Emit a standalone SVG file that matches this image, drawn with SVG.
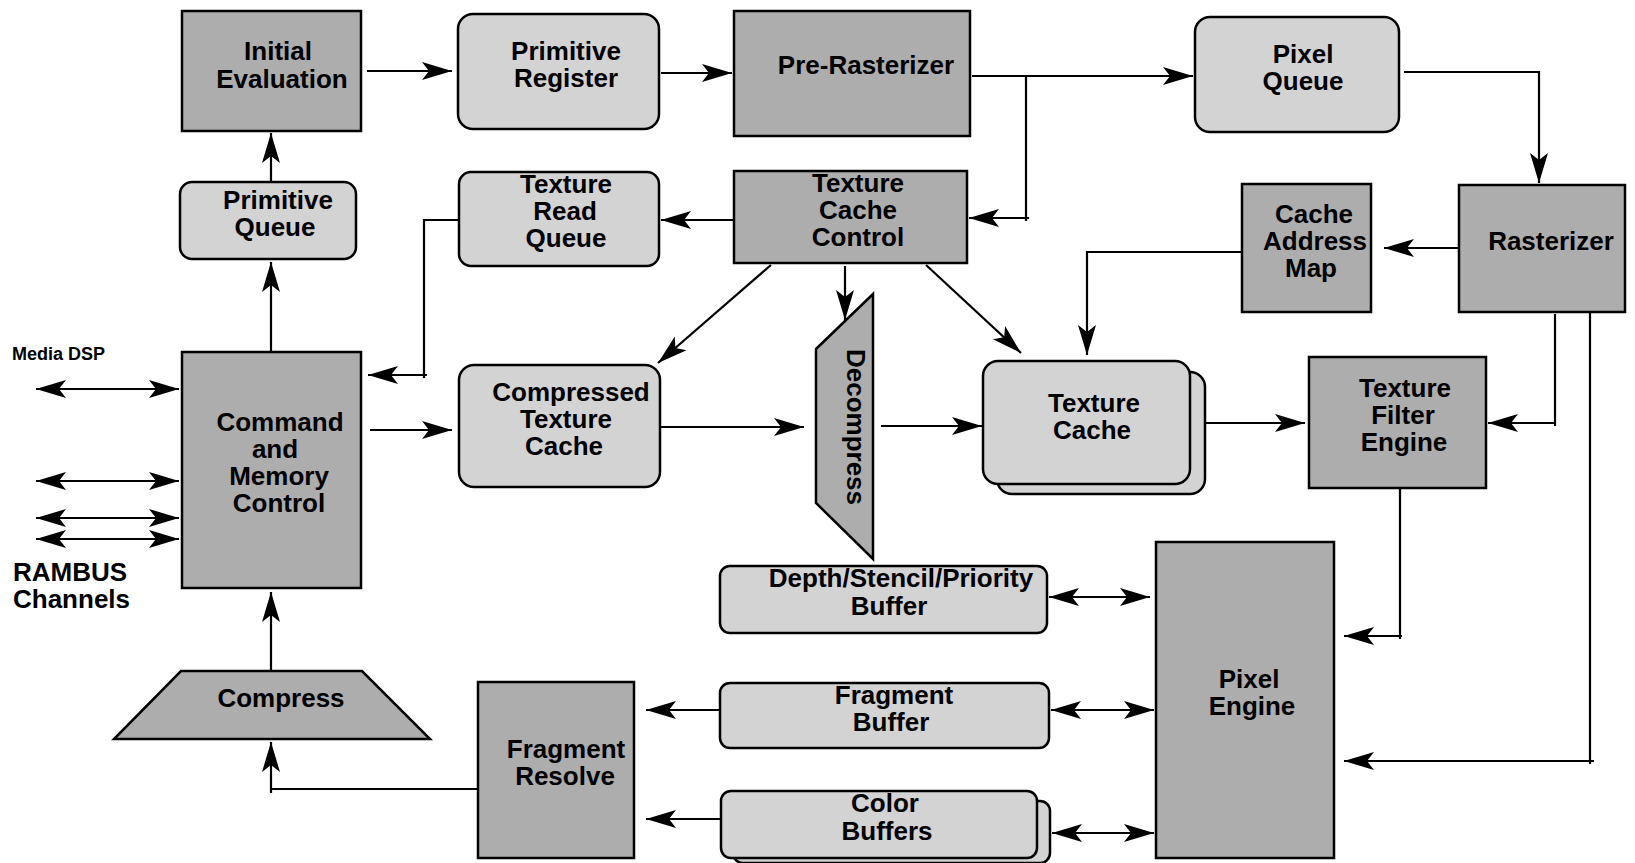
<svg xmlns="http://www.w3.org/2000/svg" width="1635" height="863" viewBox="0 0 1635 863">
<style>
.dk{fill:#adadad;stroke:#000;stroke-width:2.5}
.lt{fill:#d3d3d3;stroke:#000;stroke-width:2.5}
.t{font-family:"Liberation Sans",Arial,Helvetica,sans-serif;font-weight:bold;font-size:26px;fill:#000;text-anchor:middle}
.c{fill:none;stroke:#000;stroke-width:2.2}
.a{marker-end:url(#ah)}
.d{marker-start:url(#ah);marker-end:url(#ah)}
</style>
<defs>
<marker id="ah" markerUnits="userSpaceOnUse" viewBox="-31 -10 32 20" refX="0" refY="0" markerWidth="32" markerHeight="20" orient="auto-start-reverse">
<path d="M0,0 L-30,-9 L-23,0 L-30,9 Z" fill="#000"/>
</marker>
</defs>
<rect width="1635" height="863" fill="#fff"/>

<g id="connectors">
<path class="c a" d="M367,71 H452"/>
<path class="c a" d="M661,73 H732"/>
<path class="c a" d="M972,76 H1193"/>
<path class="c" d="M1026,76 V221"/>
<path class="c a" d="M1029,218 H969"/>
<path class="c a" d="M1404,72 H1539 V183"/>
<path class="c a" d="M1460,248 H1384"/>
<path class="c a" d="M1242,252 H1087 V355"/>
<path class="c" d="M1555,314 V426"/>
<path class="c a" d="M1555,423 H1488"/>
<path class="c" d="M1590,313 V764"/>
<path class="c a" d="M1594,761 H1344"/>
<path class="c" d="M1400,488 V639"/>
<path class="c a" d="M1402,636 H1344"/>
<path class="c a" d="M1195,423 H1305"/>
<path class="c a" d="M881,426 H982"/>
<path class="c a" d="M660,427 H804"/>
<path class="c a" d="M771,265 L658,363"/>
<path class="c a" d="M845,266 V320"/>
<path class="c a" d="M926,265 L1021,353"/>
<path class="c" d="M459,220 H424 V378"/>
<path class="c a" d="M427,375 H368"/>
<path class="c a" d="M736,220 H661"/>
<path class="c a" d="M271,352 V262"/>
<path class="c a" d="M271,188 V133"/>
<path class="c a" d="M370,430 H452"/>
<path class="c d" d="M36,389 H179"/>
<path class="c d" d="M36,481 H179"/>
<path class="c d" d="M36,518 H179"/>
<path class="c d" d="M36,539 H179"/>
<path class="c a" d="M271,673 V592"/>
<path class="c" d="M478,789 H271"/>
<path class="c a" d="M271,793 V742"/>
<path class="c d" d="M1049,597 H1150"/>
<path class="c d" d="M1051,710 H1154"/>
<path class="c d" d="M1052,833 H1154"/>
<path class="c a" d="M720,710 H646"/>
<path class="c a" d="M721,819 H646"/>
</g>

<g id="initial-evaluation">
<rect class="dk" x="182" y="11" width="179" height="120"/>
<text class="t" x="278" y="60">Initial</text>
<text class="t" x="282" y="88">Evaluation</text>
</g>

<g id="primitive-register">
<rect class="lt" x="458" y="14" width="201" height="115" rx="15"/>
<text class="t" x="566" y="60">Primitive</text>
<text class="t" x="566" y="87">Register</text>
</g>

<g id="pre-rasterizer">
<rect class="dk" x="734" y="11" width="236" height="125"/>
<text class="t" x="866" y="74">Pre-Rasterizer</text>
</g>

<g id="pixel-queue">
<rect class="lt" x="1195" y="17" width="204" height="115" rx="15"/>
<text class="t" x="1303" y="63">Pixel</text>
<text class="t" x="1303" y="90">Queue</text>
</g>

<g id="rasterizer">
<rect class="dk" x="1459" y="185" width="166" height="127"/>
<text class="t" x="1551" y="250">Rasterizer</text>
</g>

<g id="cache-address-map">
<rect class="dk" x="1242" y="184" width="129" height="128"/>
<text class="t" x="1314" y="223">Cache</text>
<text class="t" x="1315" y="250">Address</text>
<text class="t" x="1311" y="277">Map</text>
</g>

<g id="primitive-queue">
<rect class="lt" x="180" y="182" width="176" height="77" rx="12"/>
<text class="t" x="278" y="209">Primitive</text>
<text class="t" x="275" y="236">Queue</text>
</g>

<g id="texture-read-queue">
<rect class="lt" x="459" y="172" width="200" height="94" rx="12"/>
<text class="t" x="566" y="193">Texture</text>
<text class="t" x="565" y="220">Read</text>
<text class="t" x="566" y="247">Queue</text>
</g>

<g id="texture-cache-control">
<rect class="dk" x="734" y="171" width="233" height="92"/>
<text class="t" x="858" y="192">Texture</text>
<text class="t" x="858" y="219">Cache</text>
<text class="t" x="858" y="246">Control</text>
</g>

<g id="command-memory-control">
<rect class="dk" x="182" y="352" width="179" height="236"/>
<text class="t" x="280" y="431">Command</text>
<text class="t" x="275" y="458">and</text>
<text class="t" x="279" y="485">Memory</text>
<text class="t" x="279" y="512">Control</text>
</g>

<g id="compressed-texture-cache">
<rect class="lt" x="459" y="365" width="201" height="122" rx="15"/>
<text class="t" x="571" y="401">Compressed</text>
<text class="t" x="566" y="428">Texture</text>
<text class="t" x="564" y="455">Cache</text>
</g>

<g id="decompress">
<polygon class="dk" points="816,349 873,294 873,559 816,503"/>
<text class="t" x="847" y="427" transform="rotate(90 847 427)">Decompress</text>
</g>

<g id="texture-cache">
<rect class="lt" x="997" y="372" width="208" height="122" rx="15"/>
<rect class="lt" x="983" y="361" width="207" height="123" rx="15"/>
<text class="t" x="1094" y="412">Texture</text>
<text class="t" x="1092" y="439">Cache</text>
</g>

<g id="texture-filter-engine">
<rect class="dk" x="1309" y="357" width="177" height="131"/>
<text class="t" x="1405" y="397">Texture</text>
<text class="t" x="1403" y="424">Filter</text>
<text class="t" x="1404" y="451">Engine</text>
</g>

<g id="depth-stencil-priority-buffer">
<rect class="lt" x="720" y="566" width="327" height="67" rx="10"/>
<text class="t" x="901" y="587">Depth/Stencil/Priority</text>
<text class="t" x="889" y="615">Buffer</text>
</g>

<g id="fragment-buffer">
<rect class="lt" x="720" y="683" width="329" height="65" rx="10"/>
<text class="t" x="894" y="704">Fragment</text>
<text class="t" x="891" y="731">Buffer</text>
</g>

<g id="color-buffers">
<rect class="lt" x="733" y="801" width="317" height="62" rx="10"/>
<rect class="lt" x="721" y="791" width="316" height="67" rx="10"/>
<text class="t" x="885" y="812">Color</text>
<text class="t" x="887" y="840">Buffers</text>
</g>

<g id="pixel-engine">
<rect class="dk" x="1156" y="542" width="178" height="316"/>
<text class="t" x="1249" y="688">Pixel</text>
<text class="t" x="1252" y="715">Engine</text>
</g>

<g id="fragment-resolve">
<rect class="dk" x="478" y="682" width="156" height="176"/>
<text class="t" x="566" y="758">Fragment</text>
<text class="t" x="565" y="785">Resolve</text>
</g>

<g id="compress">
<polygon class="dk" points="181,671 362,671 430,739 114,739"/>
<text class="t" x="281" y="707">Compress</text>
</g>

<g id="labels">
<text class="t" x="12" y="360" style="text-anchor:start;font-size:18px">Media DSP</text>
<text class="t" x="13" y="581" style="text-anchor:start">RAMBUS</text>
<text class="t" x="13" y="608" style="text-anchor:start">Channels</text>
</g>
</svg>
